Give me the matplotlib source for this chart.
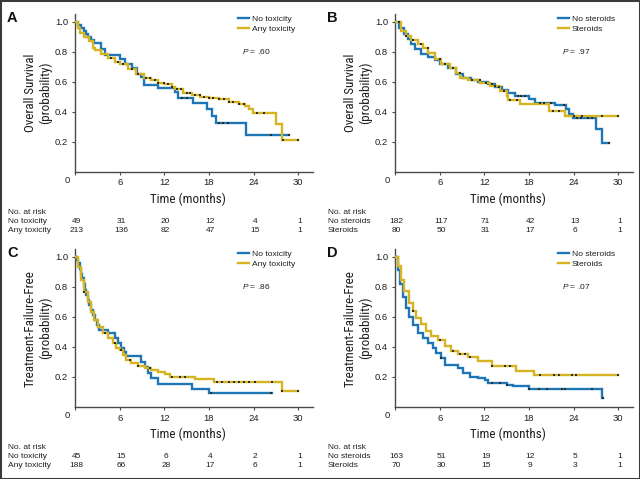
import numpy as np
import matplotlib
matplotlib.use("Agg")
import matplotlib.pyplot as plt
from matplotlib.lines import Line2D
from matplotlib.patches import Rectangle
from matplotlib import font_manager as fm
import matplotlib.transforms as mtrans

# ---------------- data ----------------
x_ticks = [0, 6, 12, 18, 24, 30]

# Panel A: Overall survival by toxicity
a_no_t = [0, 0.4, 0.8, 1.2, 1.5, 1.8, 2.1, 2.6, 3.5, 4.0, 6.1, 6.7, 7.6, 8.3, 8.9, 9.3,
          11.2, 13.4, 13.8, 15.8, 17.7, 18.4, 18.9, 23.0, 28.8]
a_no_s = [1.0, 0.98, 0.96, 0.94, 0.92, 0.90, 0.88, 0.86, 0.82, 0.78, 0.75, 0.72, 0.69, 0.65, 0.63, 0.58,
          0.56, 0.53, 0.49, 0.455, 0.415, 0.37, 0.325, 0.245, 0.245]
a_no_c = [14.4, 15.0, 19.3, 19.9, 20.6, 26.4, 28.8]
a_any_t = [0, 0.36, 0.72, 1.26, 1.94, 2.39, 2.71, 3.52, 4.42, 5.32, 6.0, 7.13, 8.25, 9.29, 10.28,
           11.19, 11.95, 12.99, 13.44, 14.57, 15.7, 16.82, 17.95, 19.3, 20.66, 22.0, 22.9, 23.37,
           23.95, 26.97, 27.79, 30.0]
a_any_s = [1.0, 0.96, 0.927, 0.898, 0.871, 0.827, 0.809, 0.787, 0.76, 0.733, 0.716, 0.682, 0.649,
           0.627, 0.609, 0.593, 0.582, 0.564, 0.549, 0.527, 0.511, 0.498, 0.489, 0.482, 0.467,
           0.453, 0.438, 0.416, 0.391, 0.316, 0.209, 0.209]
a_any_c = [4.9, 5.8, 6.5, 7.6, 8.5, 9.6, 10.1, 10.7, 11.2, 11.9, 12.5, 13.0, 13.7, 14.3, 15.0,
           15.5, 16.1, 16.8, 17.3, 18.0, 18.6, 19.3, 20.0, 20.7, 21.3, 22.0, 22.7, 24.5, 25.4,
           27.9, 30.0]

# Panel B: Overall survival by steroids
b_no_t = [0, 0.59, 1.26, 1.71, 2.17, 2.71, 3.52, 4.42, 5.32, 6.0, 7.13, 8.25, 9.16, 10.28,
          11.19, 12.54, 13.44, 14.34, 15.25, 16.15, 17.95, 18.85, 21.56, 23.05, 23.37, 23.95,
          26.97, 27.79, 28.78]
b_no_s = [1.0, 0.96, 0.916, 0.882, 0.849, 0.816, 0.787, 0.764, 0.742, 0.72, 0.693, 0.653, 0.627,
          0.611, 0.598, 0.582, 0.564, 0.542, 0.527, 0.504, 0.482, 0.46, 0.444, 0.416, 0.387,
          0.356, 0.282, 0.193, 0.193]
b_no_c = [13.0, 14.0, 16.5, 17.0, 17.5, 19.5, 20.0, 21.0, 22.7, 24.5, 25.0, 26.0, 26.5, 28.8]
b_st_t = [0, 0.81, 1.49, 2.17, 3.07, 3.74, 4.42, 5.32, 6.22, 7.35, 8.25, 8.71, 9.83, 11.41,
          12.77, 14.12, 15.02, 15.25, 16.82, 20.66, 22.91, 30.0]
b_st_s = [1.0, 0.938, 0.904, 0.876, 0.849, 0.827, 0.793, 0.749, 0.716, 0.693, 0.66, 0.627,
          0.611, 0.593, 0.571, 0.538, 0.504, 0.476, 0.449, 0.404, 0.371, 0.371]
b_st_c = [0.6, 1.5, 2.4, 3.5, 4.4, 6.0, 6.7, 7.8, 8.7, 10.3, 11.4, 12.3, 13.4, 14.6, 15.5,
          16.4, 21.3, 22.0, 24.0, 25.2, 27.8, 30.0]

# Panel C: Treatment-failure-free by toxicity
c_no_t = [0, 0.27, 0.45, 0.63, 0.81, 0.99, 1.17, 1.35, 1.53, 1.71, 1.94, 2.17, 2.44, 2.71,
          2.98, 3.29, 4.42, 5.32, 5.77, 6.22, 6.59, 6.9, 8.93, 9.38, 9.83, 10.28, 11.1, 15.79,
          17.95, 26.43]
c_no_s = [1.0, 0.978, 0.956, 0.922, 0.889, 0.856, 0.822, 0.778, 0.744, 0.711, 0.678, 0.644,
          0.611, 0.578, 0.544, 0.511, 0.489, 0.456, 0.422, 0.389, 0.367, 0.338, 0.30, 0.267,
          0.227, 0.189, 0.151, 0.116, 0.089, 0.089]
c_no_c = [18.3, 26.4]
c_any_t = [0, 0.36, 0.81, 1.26, 1.71, 2.17, 2.62, 3.07, 3.74, 4.42, 5.1, 5.55, 6.0, 6.45, 6.9,
           7.58, 8.48, 9.38, 10.28, 11.19, 12.09, 12.77, 16.15, 18.63, 27.88, 30.0]
c_any_s = [1.0, 0.933, 0.844, 0.767, 0.70, 0.633, 0.578, 0.533, 0.489, 0.456, 0.422, 0.389,
           0.378, 0.344, 0.311, 0.289, 0.271, 0.256, 0.244, 0.233, 0.218, 0.196, 0.182, 0.167,
           0.107, 0.107]
c_any_c = [1.26, 3.97, 5.32, 6.22, 7.35, 8.48, 10.06, 12.99, 14.12, 14.79, 19.08, 19.75, 20.66,
           21.33, 22.0, 22.69, 23.37, 24.18, 26.43, 27.88, 30.0]

# Panel D: Treatment-failure-free by steroids
d_no_t = [0, 0.36, 0.72, 1.04, 1.49, 1.94, 2.39, 3.07, 3.74, 4.42, 5.1, 5.55, 6.22, 6.68, 8.48,
          9.16, 10.06, 11.19, 12.09, 12.54, 15.02, 15.92, 17.95, 27.79, 27.97]
d_no_s = [1.0, 0.911, 0.822, 0.733, 0.656, 0.60, 0.544, 0.489, 0.456, 0.422, 0.389, 0.356,
          0.322, 0.278, 0.256, 0.222, 0.20, 0.189, 0.178, 0.156, 0.144, 0.138, 0.12, 0.056, 0.056]
d_no_c = [6.22, 12.99, 14.12, 15.02, 17.95, 19.3, 20.43, 22.46, 22.91, 26.43, 27.97]
d_st_t = [0, 0.36, 0.81, 1.26, 1.94, 2.39, 2.84, 3.52, 4.19, 4.87, 5.77, 6.68, 7.58, 8.48,
          9.83, 11.19, 12.99, 16.24, 18.63, 30.0]
d_st_s = [1.0, 0.938, 0.849, 0.771, 0.693, 0.638, 0.593, 0.549, 0.504, 0.471, 0.442, 0.404,
          0.371, 0.349, 0.333, 0.304, 0.271, 0.24, 0.209, 0.209]
d_st_c = [2.39, 6.0, 7.8, 8.7, 9.4, 10.06, 12.99, 14.79, 15.47, 19.53, 21.33, 22.0, 23.82,
          24.36, 30.0]

risk_a_no = [49, 31, 20, 12, 4, 1]
risk_a_any = [213, 136, 82, 47, 15, 1]
risk_b_no = [182, 117, 71, 42, 13, 1]
risk_b_st = [80, 50, 31, 17, 6, 1]
risk_c_no = [45, 15, 6, 4, 2, 1]
risk_c_any = [188, 66, 28, 17, 6, 1]
risk_d_no = [163, 51, 19, 12, 5, 1]
risk_d_st = [70, 30, 15, 9, 3, 1]

# ---------------- style ----------------
BASE = ['Liberation Sans', 'DejaVu Sans']
plt.rcParams['font.family'] = BASE
plt.rcParams['mathtext.fontset'] = 'custom'
plt.rcParams['mathtext.it'] = 'Liberation Sans:italic'
plt.rcParams['mathtext.rm'] = 'Liberation Sans'


def find_condensed():
    cond_words = ('condensed', 'semi-condensed', 'extra-condensed', 'ultra-condensed')
    best = None
    for f in fm.fontManager.ttflist:
        if f.style != 'normal' or f.weight not in (400, 'normal', 'regular'):
            continue
        st = f.stretch
        low = (f.name + ' ' + f.fname).lower()
        is_cond = (isinstance(st, str) and st in cond_words) or \
                  (isinstance(st, (int, float)) and st < 500) or \
                  ('narrow' in low) or ('condensed' in low)
        if not is_cond:
            continue
        if 'liberation' in low:
            rank, size = 0, 9.6
        elif 'roboto' in low:
            rank, size = 1, 9.4
        elif 'open' in low:
            rank, size = 2, 8.8
        elif 'dejavu' in low:
            rank, size = 3, 8.1
        else:
            rank, size = 4, 8.5
        if best is None or rank < best[0]:
            best = (rank, f.fname, size)
    return best


cond = find_condensed()
if cond:
    LABEL_FP = dict(fontproperties=fm.FontProperties(fname=cond[1], size=cond[2]))
else:
    LABEL_FP = dict(family=BASE, fontsize=8.2)

BLUE = '#1f76b7'
GOLD = '#d6b320'
CENS = '#2e2e20'
SPINE = '#4a4a4a'
TXT = '#1e1e1e'

W, H = 640, 479
fig = plt.figure(figsize=(W / 100, H / 100), dpi=100)


def fx(px):
    return px / W


def fy(py):
    return 1 - py / H


def draw_panel(ox, oy, letter, ylabel, s1, s2, lab1, lab2, pval, r1, r2):
    ax = fig.add_axes([fx(ox + 75), fy(oy + 171.5), fx(238), 157.3 / H])
    ax.set_xlim(0, 32)
    ax.set_ylim(0, 1.05)
    for sp in ['top', 'right']:
        ax.spines[sp].set_visible(False)
    for sp in ['left', 'bottom']:
        ax.spines[sp].set_color(SPINE)
        ax.spines[sp].set_linewidth(1.0)
    ax.set_xticks(x_ticks)
    ax.set_xticklabels([''] + [str(v) for v in x_ticks[1:]])
    ax.set_yticks([0.2, 0.4, 0.6, 0.8, 1.0])
    ax.set_yticklabels(['0.2', '0.4', '0.6', '0.8', '1.0'])
    ax.tick_params(axis='both', length=2.5, width=0.8, color=SPINE, labelsize=6.8,
                   labelcolor=TXT, pad=2.5)
    ax.text(-1.1, -0.06, '0', ha='center', va='center', fontsize=6.8, color=TXT,
            transform=ax.transData, clip_on=False)

    for (t, s, c), col in ((s1, BLUE), (s2, GOLD)):
        t = np.asarray(t, float)
        s = np.asarray(s, float)
        ax.step(t, s, where='post', color=col, lw=1.7, solid_joinstyle='miter', zorder=3)
        c = np.asarray(c, float)
        idx = np.clip(np.searchsorted(t, c, side='right') - 1, 0, len(s) - 1)
        ax.plot(c, s[idx], ls='none', marker='s', ms=1.9, mfc=CENS, mec=CENS, mew=0, zorder=4)

    handles = [Line2D([], [], color=BLUE, lw=1.7), Line2D([], [], color=GOLD, lw=1.7)]
    ax.legend(handles, [lab1, lab2], loc='upper left', bbox_to_anchor=(0.68, 1.0),
              frameon=False, fontsize=6.1, handlelength=1.3, handletextpad=0.35,
              labelspacing=0.2, borderpad=0.1, borderaxespad=0.0, labelcolor=TXT)
    ax.text(fx(ox + 242), fy(oy + 51), '$P$ = ' + pval, transform=fig.transFigure,
            fontsize=6.0, color=TXT, ha='left', va='center')

    fig.text(fx(ox + 7), fy(oy + 18), letter, fontsize=10.5, fontweight='bold', color='#111111',
             ha='left', va='center')
    fig.text(fx(ox + 38), fy(oy + 93), ylabel, rotation=90, ha='center', va='center',
             color=TXT, linespacing=1.15, **LABEL_FP)
    fig.text(fx(ox + 188), fy(oy + 199), 'Time (months)', ha='center', va='center',
             color=TXT, **LABEL_FP)

    ty0, ty1, ty2 = oy + 212, oy + 221.5, oy + 230.5
    fs = 6.0
    fig.text(fx(ox + 8), fy(ty0), 'No. at risk', fontsize=fs, color=TXT, ha='left', va='center')
    fig.text(fx(ox + 8), fy(ty1), lab1, fontsize=fs, color=TXT, ha='left', va='center')
    fig.text(fx(ox + 8), fy(ty2), lab2, fontsize=fs, color=TXT, ha='left', va='center')
    tr = mtrans.blended_transform_factory(ax.transData, fig.transFigure)
    for xv, n1, n2 in zip(x_ticks, r1, r2):
        ax.text(xv + 0.2, fy(ty1), str(n1), transform=tr, fontsize=fs, color=TXT,
                ha='center', va='center', clip_on=False)
        ax.text(xv + 0.2, fy(ty2), str(n2), transform=tr, fontsize=fs, color=TXT,
                ha='center', va='center', clip_on=False)
    return ax


draw_panel(0, 0, 'A', 'Overall Survival\n(probability)',
           (a_no_t, a_no_s, a_no_c), (a_any_t, a_any_s, a_any_c),
           'No toxicity', 'Any toxicity', '.60', risk_a_no, risk_a_any)
draw_panel(320, 0, 'B', 'Overall Survival\n(probability)',
           (b_no_t, b_no_s, b_no_c), (b_st_t, b_st_s, b_st_c),
           'No steroids', 'Steroids', '.97', risk_b_no, risk_b_st)
draw_panel(0, 235.2, 'C', 'Treatment-Failure-Free\n(probability)',
           (c_no_t, c_no_s, c_no_c), (c_any_t, c_any_s, c_any_c),
           'No toxicity', 'Any toxicity', '.86', risk_c_no, risk_c_any)
draw_panel(320, 235.2, 'D', 'Treatment-Failure-Free\n(probability)',
           (d_no_t, d_no_s, d_no_c), (d_st_t, d_st_s, d_st_c),
           'No steroids', 'Steroids', '.07', risk_d_no, risk_d_st)

fig.patches.append(Rectangle((0, 0), 1, 1, transform=fig.transFigure, fill=False,
                             lw=2.2, edgecolor='#3a3a3a'))

fig.savefig('out.png', dpi=100)
